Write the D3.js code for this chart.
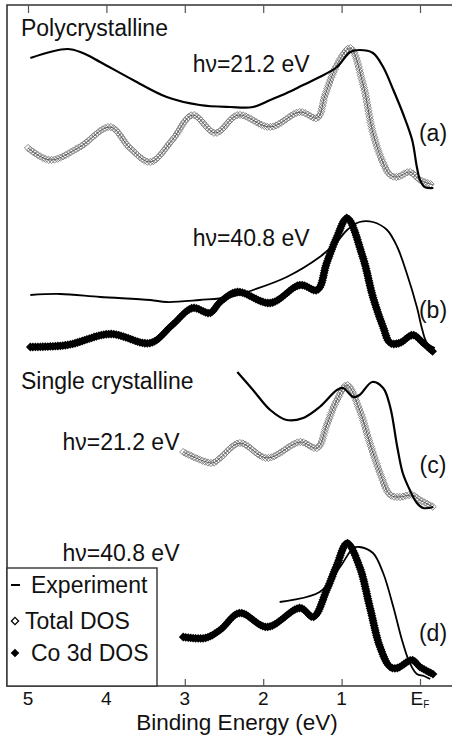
<!DOCTYPE html>
<html>
<head>
<meta charset="utf-8">
<script src="https://cdnjs.cloudflare.com/ajax/libs/d3/7.8.5/d3.min.js"></script>
<style>
  body { margin: 0; background: #fff; }
  text { font-family: "Liberation Sans", Arial, Helvetica, sans-serif; fill: #111; }
</style>
</head>
<body>
<div id="spectra-vis"></div>
<script>
// binding energy (eV) / intensity (arb. units, panels offset for clarity)
var polyHe1Exp = [[4.97,6.28],[4.50,6.37],[4.30,6.33],[4.08,6.24],[3.66,6.06],[3.23,5.89],[2.81,5.81],[2.42,5.79],[2.13,5.79],[1.91,5.86],[1.70,5.93],[1.49,6.01],[1.28,6.09],[1.06,6.19],[0.89,6.34],[0.77,6.36],[0.60,6.33],[0.47,6.19],[0.34,5.96],[0.22,5.73],[0.10,5.46],[0.04,5.19],[0.0,5.06],[-0.06,4.99],[-0.17,4.98]];
var polyHe1Dos = [[5.0,5.38],[4.72,5.26],[4.34,5.39],[3.95,5.59],[3.70,5.38],[3.44,5.24],[3.16,5.46],[2.90,5.71],[2.61,5.53],[2.32,5.71],[1.91,5.59],[1.53,5.74],[1.31,5.68],[1.21,5.91],[1.06,6.21],[0.89,6.38],[0.73,6.03],[0.60,5.53],[0.47,5.23],[0.38,5.11],[0.29,5.09],[0.13,5.14],[0.0,5.06],[-0.17,5.01]];

var polyHe2Exp = [[4.97,3.91],[4.59,3.92],[4.08,3.89],[3.44,3.86],[3.23,3.84],[2.81,3.86],[2.42,3.89],[2.13,3.96],[1.70,4.09],[1.28,4.29],[1.06,4.44],[0.93,4.56],[0.77,4.64],[0.60,4.64],[0.42,4.56],[0.29,4.39],[0.17,4.13],[0.04,3.79],[-0.03,3.56],[-0.09,3.43],[-0.19,3.38]];
var polyHe2Co3d = [[4.97,3.39],[4.50,3.41],[3.95,3.52],[3.44,3.43],[3.16,3.61],[2.90,3.78],[2.68,3.73],[2.55,3.84],[2.33,3.94],[1.91,3.83],[1.53,4.01],[1.31,3.96],[1.19,4.23],[1.06,4.49],[0.93,4.68],[0.73,4.29],[0.60,3.89],[0.47,3.59],[0.38,3.43],[0.26,3.43],[0.09,3.51],[-0.04,3.43],[-0.17,3.34]];

var singleHe1Exp = [[2.33,3.14],[2.13,2.96],[1.91,2.76],[1.70,2.66],[1.49,2.68],[1.28,2.79],[1.06,2.96],[0.98,2.98],[0.85,2.89],[0.77,2.91],[0.61,3.04],[0.47,2.98],[0.38,2.79],[0.29,2.39],[0.22,2.13],[0.13,1.96],[0.04,1.83],[-0.04,1.78],[-0.17,1.79]];
var singleHe1Dos = [[3.02,2.34],[2.65,2.23],[2.55,2.28],[2.30,2.43],[1.95,2.28],[1.53,2.44],[1.31,2.38],[1.19,2.61],[1.06,2.86],[0.93,3.01],[0.77,2.76],[0.64,2.43],[0.51,2.13],[0.38,1.91],[0.26,1.89],[0.10,1.91],[0.0,1.86],[-0.17,1.79]];

var singleHe2Exp = [[1.79,0.84],[1.28,0.94],[1.02,1.19],[0.85,1.38],[0.77,1.39],[0.60,1.33],[0.47,1.13],[0.34,0.79],[0.23,0.46],[0.13,0.23],[0.04,0.12],[-0.05,0.10],[-0.13,0.07]];
var singleHe2Co3d = [[3.02,0.49],[2.74,0.48],[2.55,0.56],[2.30,0.73],[1.95,0.59],[1.53,0.78],[1.36,0.69],[1.19,0.96],[1.06,1.21],[0.93,1.43],[0.77,1.19],[0.64,0.79],[0.51,0.39],[0.38,0.19],[0.29,0.18],[0.10,0.26],[0.0,0.19],[-0.19,0.11]];

var xTicks = [5, 4, 3, 2, 1, 0];
var xTickLabels = ["5", "4", "3", "2", "1", "E"];
var panelLabels = ["(a)", "(b)", "(c)", "(d)"];
var panelLabelY = [5.45, 3.68, 2.13, 0.45];
var photonLabels = ["hν=21.2 eV", "hν=40.8 eV", "hν=21.2 eV", "hν=40.8 eV"];
var photonLabelPos = [[2.90, 6.14], [2.90, 4.40], [4.56, 2.36], [4.56, 1.25]];
var groupLabels = ["Polycrystalline", "Single crystalline"];
var groupLabelPos = [[5.09, 6.50], [5.09, 2.97]];
var legendNames = ["Experiment", "Total DOS", "Co 3d DOS"];

var width = 452, height = 739;
var margin = {top: 5, left: 7, bottom: 53};

var svg = d3.select("#spectra-vis")
    .append("svg")
    .attr("width", width)
    .attr("height", height);

// binding energy runs right to left, E_F at the right
var x = d3.scaleLinear().domain([5, 0]).range([28, 420]);
var y = d3.scaleLinear().domain([0, 6.8]).range([height - margin.bottom, margin.top + 1]);
var bottom = height - margin.bottom;

var line = d3.line()
    .x(function(d) { return x(d[0]); })
    .y(function(d) { return y(d[1]); })
    .curve(d3.curveCatmullRom.alpha(0.5));

// frame (left, top, bottom only)
svg.append("path")
    .attr("d", "M" + width + "," + margin.top + "H" + margin.left + "V" + bottom + "H" + width)
    .attr("fill", "none")
    .attr("stroke", "#333")
    .attr("stroke-width", 1.6);

// ticks pointing inwards on top and bottom
svg.append("g")
    .attr("transform", "translate(0," + bottom + ")")
    .call(d3.axisTop(x).tickValues(xTicks).tickSize(7).tickFormat(""))
    .call(function(g) { g.select(".domain").remove(); })
    .selectAll("line").attr("stroke", "#555").attr("stroke-width", 1.2);

svg.append("g")
    .attr("transform", "translate(0," + margin.top + ")")
    .call(d3.axisBottom(x).tickValues(xTicks).tickSize(8).tickFormat(""))
    .call(function(g) { g.select(".domain").remove(); })
    .selectAll("line").attr("stroke", "#555").attr("stroke-width", 1.2);

var tickText = svg.append("g").selectAll("text")
    .data(xTicks)
    .enter()
    .append("text")
    .attr("x", function(d) { return x(d); })
    .attr("y", bottom + 19)
    .attr("text-anchor", "middle")
    .style("font-size", "19px")
    .text(function(d, i) { return xTickLabels[i]; });
tickText.filter(function(d) { return d === 0; })
    .append("tspan")
    .attr("dy", 3)
    .style("font-size", "10px")
    .text("F");

svg.append("text")
    .attr("x", 237)
    .attr("y", 730)
    .attr("text-anchor", "middle")
    .style("font-size", "22.5px")
    .text("Binding Energy (eV)");

// drop markers every few pixels along a drawn curve
function markers(path, step) {
    var node = path.node();
    var len = node.getTotalLength();
    var pts = [];
    for (var s = 0; s <= len; s += step) {
        var p = node.getPointAtLength(s);
        pts.push([p.x, p.y]);
    }
    return pts;
}

var diamond = function(r) {
    return "M0," + (-r) + "L" + r + ",0L0," + r + "L" + (-r) + ",0Z";
};

function drawTotalDos(data) {
    var g = svg.append("g");
    var p = g.append("path")
        .attr("d", line(data))
        .attr("fill", "none")
        .attr("stroke", "#555")
        .attr("stroke-width", 1);
    g.selectAll("path.m")
        .data(markers(p, 3))
        .enter()
        .append("path")
        .attr("class", "m")
        .attr("transform", function(d) { return "translate(" + d[0] + "," + d[1] + ")"; })
        .attr("d", diamond(3.6))
        .attr("fill", "none")
        .attr("stroke", "#7a7a7a")
        .attr("stroke-width", 0.9);
    p.raise();
}

function drawCo3d(data) {
    var g = svg.append("g");
    var p = g.append("path")
        .attr("d", line(data))
        .attr("fill", "none")
        .attr("stroke", "#000")
        .attr("stroke-width", 1.5);
    g.selectAll("path.m")
        .data(markers(p, 2.5))
        .enter()
        .append("path")
        .attr("class", "m")
        .attr("transform", function(d) { return "translate(" + d[0] + "," + d[1] + ")"; })
        .attr("d", diamond(4.4))
        .attr("fill", "#000");
}

function drawExp(data, w) {
    svg.append("path")
        .attr("d", line(data))
        .attr("fill", "none")
        .attr("stroke", "#000")
        .attr("stroke-width", w);
}

drawTotalDos(polyHe1Dos);
drawExp(polyHe1Exp, 2.2);
drawCo3d(polyHe2Co3d);
drawExp(polyHe2Exp, 1.8);
drawTotalDos(singleHe1Dos);
drawExp(singleHe1Exp, 2.2);
drawCo3d(singleHe2Co3d);
drawExp(singleHe2Exp, 1.8);

// panel labels
svg.append("g").selectAll("text")
    .data(panelLabels)
    .enter()
    .append("text")
    .attr("x", 433)
    .attr("y", function(d, i) { return y(panelLabelY[i]); })
    .attr("text-anchor", "middle")
    .style("font-size", "23px")
    .text(function(d) { return d; });

svg.append("g").selectAll("text")
    .data(photonLabels)
    .enter()
    .append("text")
    .attr("x", function(d, i) { return x(photonLabelPos[i][0]); })
    .attr("y", function(d, i) { return y(photonLabelPos[i][1]); })
    .style("font-size", "23px")
    .text(function(d) { return d; });

svg.append("g").selectAll("text")
    .data(groupLabels)
    .enter()
    .append("text")
    .attr("x", function(d, i) { return x(groupLabelPos[i][0]); })
    .attr("y", function(d, i) { return y(groupLabelPos[i][1]); })
    .style("font-size", "23px")
    .text(function(d) { return d; });

// legend box, bottom left
var legend = svg.append("g");
legend.append("rect")
    .attr("x", margin.left)
    .attr("y", 568)
    .attr("width", 150)
    .attr("height", bottom - 568)
    .attr("fill", "#fff")
    .attr("stroke", "#333")
    .attr("stroke-width", 1.4);

var legY = [585, 621, 653];
legend.append("line")
    .attr("x1", 11).attr("x2", 20)
    .attr("y1", legY[0]).attr("y2", legY[0])
    .attr("stroke", "#000").attr("stroke-width", 2);
legend.append("path")
    .attr("transform", "translate(15," + legY[1] + ")")
    .attr("d", diamond(3.6))
    .attr("fill", "#fff").attr("stroke", "#000").attr("stroke-width", 1.3);
legend.append("path")
    .attr("transform", "translate(15," + legY[2] + ")")
    .attr("d", diamond(4.3))
    .attr("fill", "#000");

legend.selectAll("text")
    .data(legendNames)
    .enter()
    .append("text")
    .attr("x", function(d, i) { return i === 1 ? 25 : 31; })
    .attr("y", function(d, i) { return legY[i] + 8; })
    .style("font-size", "23px")
    .text(function(d) { return d; });
</script>
</body>
</html>
